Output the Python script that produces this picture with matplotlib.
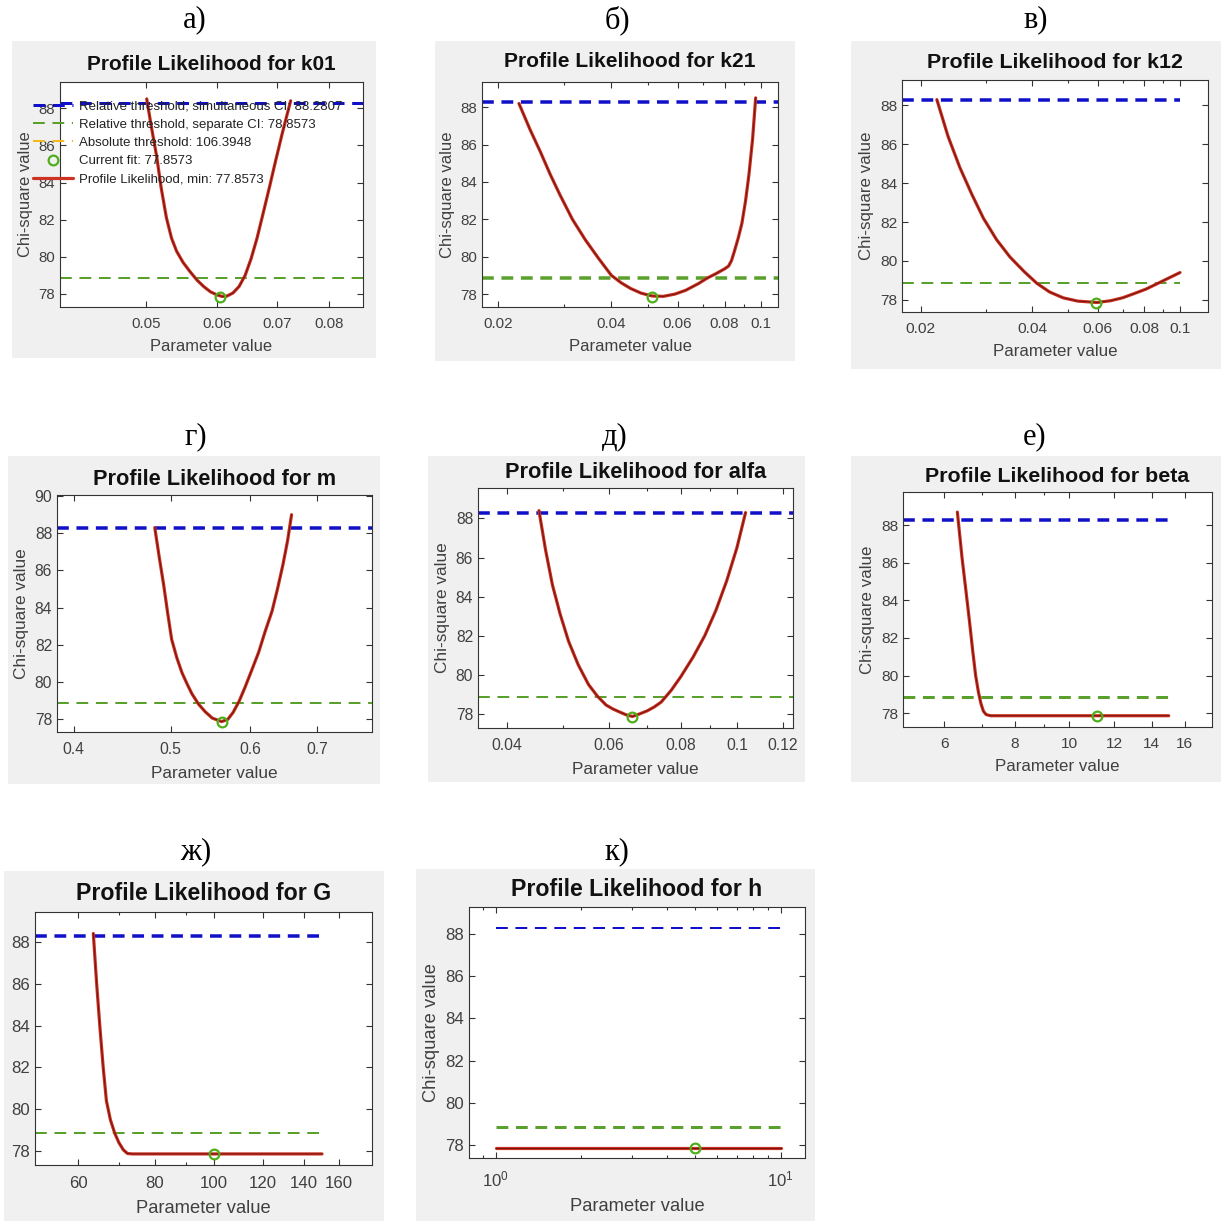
import numpy as np
import matplotlib
matplotlib.use('Agg')
import matplotlib.pyplot as plt
from matplotlib.patches import Rectangle
from matplotlib.ticker import FixedLocator, FuncFormatter, LogLocator, NullFormatter

plt.rcParams['font.family'] = ['Liberation Sans', 'DejaVu Sans']
plt.rcParams['mathtext.default'] = 'regular'
plt.rcParams['lines.scale_dashes'] = False

W, H = 1222, 1221

# thresholds (same for every parameter)
simult_ci = 88.2807
separate_ci = 78.8573
absolute_thr = 106.3948
chi2_min = 77.8573

letters = ['а)', 'б)', 'в)', 'г)', 'д)', 'е)', 'ж)', 'к)']
params = ['k01', 'k21', 'k12', 'm', 'alfa', 'beta', 'G', 'h']

# profile likelihood curves
k01_x = [0.0501, 0.0507, 0.0514, 0.0520, 0.0527, 0.0534, 0.0541, 0.0550, 0.0560, 0.0570, 0.0580,
         0.0590, 0.0600, 0.0608, 0.0615, 0.0625, 0.0635, 0.0645, 0.0655, 0.0665, 0.0676, 0.0687,
         0.0697, 0.0710, 0.0725]
k01_y = [88.5, 87.0, 85.4, 83.7, 82.1, 81.0, 80.3, 79.7, 79.2, 78.75, 78.4,
         78.12, 77.95, 77.87, 77.88, 78.05, 78.4, 79.0, 79.9, 81.0, 82.4, 83.8,
         85.1, 86.7, 88.4]
k21_x = [0.0227, 0.0243, 0.0259, 0.0275, 0.0292, 0.0315, 0.0341, 0.0370, 0.0400, 0.0425, 0.0450,
         0.0480, 0.0513, 0.0550, 0.0590, 0.0630, 0.0680, 0.0720, 0.0760, 0.0800, 0.0820, 0.0835,
         0.0850, 0.0870, 0.0890, 0.0910, 0.0929, 0.0950, 0.0968]
k21_y = [88.2, 86.8, 85.6, 84.4, 83.3, 82.0, 80.9, 79.9, 79.0, 78.6, 78.3,
         78.05, 77.9, 77.88, 78.0, 78.2, 78.55, 78.86, 79.1, 79.35, 79.5, 79.8,
         80.3, 81.0, 81.8, 83.0, 84.4, 86.3, 88.5]
k12_x = [0.0221, 0.0237, 0.0255, 0.0275, 0.0295, 0.0320, 0.0348, 0.0380, 0.0411, 0.0445, 0.0484,
         0.0530, 0.0598, 0.0650, 0.0700, 0.0748, 0.0810, 0.0884, 0.0940, 0.1000]
k12_y = [88.3, 86.4, 84.8, 83.4, 82.2, 81.1, 80.2, 79.45, 78.85, 78.4, 78.1,
         77.93, 77.86, 77.95, 78.1, 78.3, 78.55, 78.9, 79.15, 79.4]
m_x = [0.482, 0.487, 0.492, 0.4965, 0.501, 0.507, 0.513, 0.519, 0.525, 0.533, 0.541, 0.550,
       0.562, 0.570, 0.577, 0.585, 0.593, 0.602, 0.612, 0.621, 0.631, 0.639, 0.647, 0.654, 0.660]
m_y = [88.3, 86.7, 85.2, 83.7, 82.3, 81.3, 80.5, 79.9, 79.35, 78.8, 78.4, 78.05,
       77.86, 77.98, 78.35, 78.95, 79.7, 80.6, 81.6, 82.7, 83.8, 85.0, 86.3, 87.6, 89.0]
alfa_x = [0.0455, 0.0467, 0.0480, 0.0495, 0.0512, 0.0532, 0.0554, 0.0574, 0.0594, 0.0610, 0.0626,
          0.0643, 0.0660, 0.0680, 0.0700, 0.0720, 0.0740, 0.0770, 0.0800, 0.0840, 0.0880, 0.0920,
          0.0960, 0.1000, 0.1035]
alfa_y = [88.4, 86.4, 84.6, 83.1, 81.7, 80.5, 79.5, 78.9, 78.45, 78.25, 78.1,
          77.95, 77.86, 78.0, 78.15, 78.35, 78.6, 79.2, 79.9, 80.9, 82.0, 83.3,
          84.8, 86.5, 88.3]
beta_x = [6.33, 6.45, 6.55, 6.65, 6.74, 6.82, 6.90, 6.97, 7.04, 7.12, 7.25, 8.0, 10.0, 12.0, 15.0]
beta_y = [88.7, 86.3, 84.6, 82.9, 81.3, 80.0, 79.1, 78.5, 78.1, 77.92, 77.86, 77.86, 77.86, 77.86, 77.86]
G_x = [63.5, 64.3, 65.1, 65.9, 66.7, 67.7, 68.8, 69.9, 71.1, 72.2, 73.5, 80.0, 100.0, 120.0, 150.0]
G_y = [88.4, 86.0, 83.9, 82.0, 80.4, 79.5, 78.86, 78.4, 78.05, 77.88, 77.86, 77.86, 77.86, 77.86, 77.86]
h_x = [1.0, 10.0]
h_y = [77.86, 77.86]

curves_x = [k01_x, k21_x, k12_x, m_x, alfa_x, beta_x, G_x, h_x]
curves_y = [k01_y, k21_y, k12_y, m_y, alfa_y, beta_y, G_y, h_y]
fit_x = [0.0605, 0.0513, 0.0595, 0.563, 0.0658, 11.2, 99.9, 5.0]

# x ticks of each panel
xticks = [[0.05, 0.06, 0.07, 0.08], [0.02, 0.04, 0.06, 0.08, 0.1], [0.02, 0.04, 0.06, 0.08, 0.1],
          [0.4, 0.5, 0.6, 0.7], [0.04, 0.06, 0.08, 0.1, 0.12], [6, 8, 10, 12, 14, 16],
          [60, 80, 100, 120, 140, 160], [1, 10]]

# threshold line extent (scan range), None = whole axis
thr_span = [None, None, (None, 0.1), None, None, (None, 15.0), (None, 150.0), (1.0, 10.0)]

# layout in pixels: grey panel, axes box (l, r, t, b), letter position, limits,
# line widths (blue, green), font scale of the screenshot, title pad
layout = [
    dict(bg=(12, 376, 41, 358), box=(60, 363, 82, 307), lab=(195, 20), xlim=(0.0401, 0.0873), ylim=(77.30, 89.41), lw=(3, 2), fs=1.03, tp=9),
    dict(bg=(435, 795, 41, 361), box=(482, 778, 82, 307), lab=(617, 20), xlim=(0.0181, 0.111), ylim=(77.31, 89.35), lw=(3.5, 3.5), fs=1.04, tp=10.5),
    dict(bg=(851, 1221, 41, 369), box=(902, 1208, 80, 312), lab=(1036, 20), xlim=(0.0178, 0.119), ylim=(77.37, 89.31), lw=(3.5, 2), fs=1.06, tp=9),
    dict(bg=(8, 380, 456, 784), box=(57, 372, 495, 732), lab=(196, 437), xlim=(0.385, 0.794), ylim=(77.30, 90.06), lw=(3.5, 2), fs=1.08, tp=7),
    dict(bg=(428, 805, 456, 782), box=(478, 793, 488, 728), lab=(615, 437), xlim=(0.0357, 0.125), ylim=(77.27, 89.56), lw=(3.5, 2), fs=1.08, tp=7),
    dict(bg=(851, 1221, 456, 782), box=(903, 1212, 492, 727), lab=(1035, 437), xlim=(5.07, 17.9), ylim=(77.26, 89.77), lw=(3.5, 3), fs=1.06, tp=7),
    dict(bg=(4, 384, 871, 1221), box=(35, 372, 912, 1165), lab=(196, 852), xlim=(51, 181), ylim=(77.33, 89.43), lw=(3.5, 2), fs=1.15, tp=9),
    dict(bg=(416, 815, 869, 1221), box=(469, 805, 907, 1158), lab=(617, 852), xlim=(0.806, 12.17), ylim=(77.39, 89.28), lw=(2, 3), fs=1.15, tp=8),
]

BLUE = '#1010c8'
GREEN = '#5aa02c'
YELLOW = '#f2b81c'
RED = '#cc3322'
DARKRED = '#7a1410'
TXT = '#404040'
PX = 0.72  # points per pixel at dpi 100
DASH = (8.5, 5.5)


def fmt_tick(v, pos):
    return '%g' % v


def draw_panel(fig, i):
    lay = layout[i]
    fs = lay['fs']
    x0, x1, y0, y1 = lay['bg']
    fig.add_artist(Rectangle((x0 / W, 1 - y1 / H), (x1 - x0) / W, (y1 - y0) / H,
                             transform=fig.transFigure, facecolor='#f0f0f0', edgecolor='none', zorder=-5))
    lx, ly = lay['lab']
    fig.text(lx / W, 1 - ly / H, letters[i], ha='center', va='center', fontsize=22,
             family=['Liberation Serif', 'DejaVu Serif'], color='black')

    l, r, t, b = lay['box']
    ax = fig.add_axes([l / W, 1 - b / H, (r - l) / W, (b - t) / H])
    ax.set_facecolor('white')
    ax.set_xscale('log')
    ax.set_xlim(*lay['xlim'])
    ax.set_ylim(*lay['ylim'])

    lw_blue, lw_green = lay['lw']
    span = thr_span[i]
    if span is None:
        xs = list(lay['xlim'])
    else:
        xs = [lay['xlim'][0] if span[0] is None else span[0], span[1]]
    ax.plot(xs, [simult_ci, simult_ci], color=BLUE, lw=lw_blue * PX, dashes=DASH,
            label='Relative threshold, simultaneous CI: %.4f' % simult_ci, zorder=2)
    ax.plot(xs, [separate_ci, separate_ci], color=GREEN, lw=lw_green * PX, dashes=DASH,
            label='Relative threshold, separate CI: %.4f' % separate_ci, zorder=2)
    ax.plot(xs, [absolute_thr, absolute_thr], color=YELLOW, lw=2 * PX, dashes=DASH,
            label='Absolute threshold: %.4f' % absolute_thr, zorder=2)
    ax.plot([fit_x[i]], [chi2_min], 'o', mfc='none', mec='#4fae1c', mew=1.6, ms=7,
            label='Current fit: %.4f' % chi2_min, zorder=5)
    ax.plot(curves_x[i], curves_y[i], color=RED, lw=2.3, solid_capstyle='round', solid_joinstyle='round',
            label='Profile Likelihood, min: %.4f' % chi2_min, zorder=3)
    ax.plot(curves_x[i], curves_y[i], color=DARKRED, lw=0.8, solid_joinstyle='round', zorder=4)

    ax.xaxis.set_major_locator(FixedLocator(xticks[i]))
    if params[i] == 'h':
        ax.xaxis.set_major_formatter(FuncFormatter(lambda v, p: '$10^{%d}$' % round(np.log10(v))))
    else:
        ax.xaxis.set_major_formatter(FuncFormatter(fmt_tick))
    ax.xaxis.set_minor_locator(LogLocator(base=10, subs=np.arange(1, 10), numticks=20))
    ax.xaxis.set_minor_formatter(NullFormatter())
    top = 90 if params[i] == 'm' else 88
    ax.set_yticks(np.arange(78, top + 1, 2))

    ax.tick_params(which='both', direction='in', top=True, right=True, color='#333333',
                   labelcolor=TXT, labelsize=10.5 * fs, width=0.8)
    ax.tick_params(which='major', length=4)
    ax.tick_params(which='minor', length=2.5)
    ax.tick_params(axis='x', which='major', pad=7 * fs)
    for s in ax.spines.values():
        s.set_color('#333333')
        s.set_linewidth(0.8)

    ax.set_title('Profile Likelihood for ' + params[i], fontsize=14.5 * fs, fontweight='bold',
                 color='#111111', pad=lay['tp'])
    ax.set_xlabel('Parameter value', fontsize=11.5 * fs, color=TXT, labelpad=5.5 * fs)
    if params[i] != 'G':
        ax.set_ylabel('Chi-square value', fontsize=11.5 * fs, color=TXT, labelpad=4)

    if i == 0:
        ax.legend(loc='upper left', bbox_to_anchor=(33 / W, 1 - 100 / H), bbox_transform=fig.transFigure,
                  frameon=False, fontsize=9.5, handlelength=3.0, handletextpad=0.45,
                  labelspacing=0.46, borderpad=0, borderaxespad=0, labelcolor='#222222')
    return ax


def main():
    fig = plt.figure(figsize=(W / 100, H / 100), dpi=100, facecolor='white')
    for i in range(len(params)):
        draw_panel(fig, i)
    fig.savefig('out.png', dpi=100, facecolor='white')
    plt.close(fig)


if __name__ == '__main__':
    main()
